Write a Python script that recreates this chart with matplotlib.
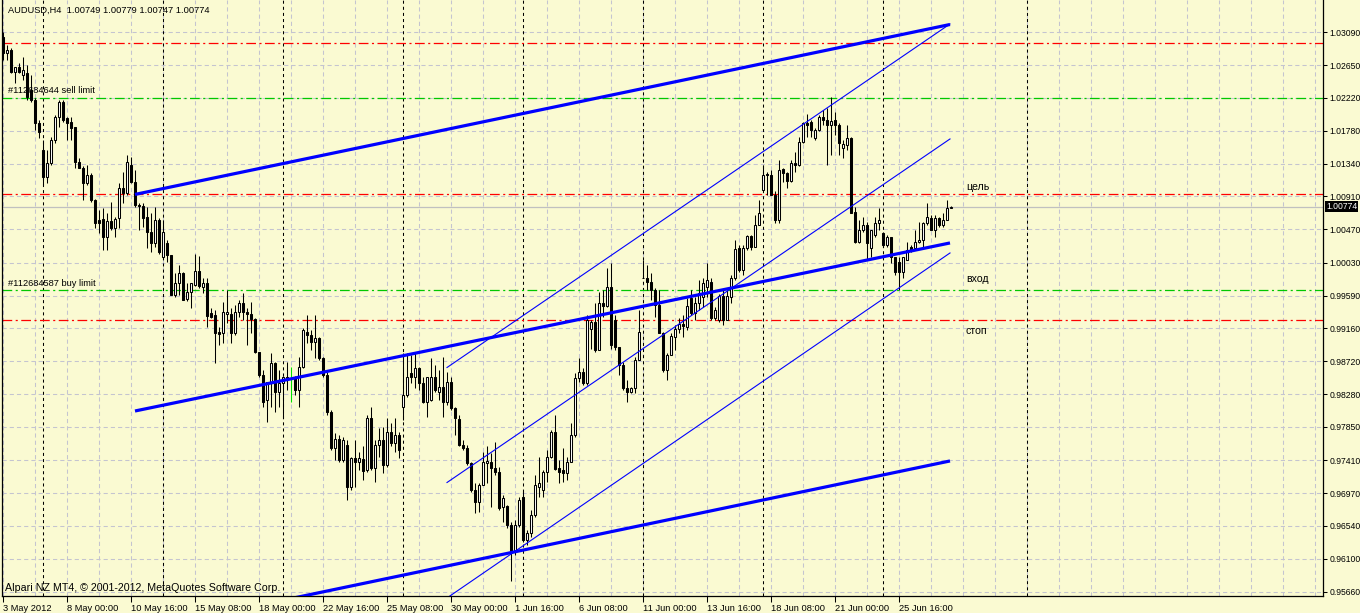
import numpy as np
import matplotlib.pyplot as plt
import matplotlib.transforms as mtransforms

plt.rcParams['font.family'] = ['Liberation Sans', 'DejaVu Sans']
plt.rcParams['lines.scale_dashes'] = False

# AUDUSD H4 bars, prices in pips (price * 10000)
opens = [10302, 10281, 10285, 10256, 10262, 10252, 10255, 10232, 10219, 10188,
         10152, 10117, 10135, 10166, 10196, 10216, 10195, 10190, 10183, 10137,
         10129, 10108, 10119, 10086, 10060, 10061, 10037, 10058, 10049, 10062,
         10102, 10095, 10133, 10110, 10079, 10078, 10063, 10044, 10029, 10060,
         10011, 10029, 10013, 9960, 9976, 9989, 9955, 9964, 9973, 9992,
         9970, 9976, 9936, 9934, 9911, 9910, 9935, 9935, 9910, 9937,
         9949, 9937, 9935, 9928, 9884, 9854, 9821, 9843, 9870, 9831,
         9843, 9851, 9850, 9851, 9834, 9865, 9911, 9907, 9898, 9903,
         9876, 9854, 9805, 9757, 9769, 9741, 9761, 9705, 9744, 9738,
         9743, 9728, 9797, 9730, 9761, 9768, 9734, 9778, 9764, 9774,
         9811, 9827, 9857, 9851, 9863, 9843, 9818, 9821, 9851, 9831,
         9838, 9818, 9845, 9810, 9796, 9761, 9757, 9737, 9701, 9685,
         9708, 9737, 9738, 9730, 9725, 9679, 9680, 9655, 9619, 9655,
         9692, 9635, 9644, 9668, 9705, 9701, 9725, 9745, 9778, 9730,
         9728, 9724, 9738, 9774, 9850, 9858, 9843, 9915, 9924, 9887,
         9949, 9945, 9970, 9927, 9891, 9867, 9837, 9831, 9837, 9874,
         9983, 9982, 9977, 9967, 9947, 9910, 9860, 9880, 9904, 9915,
         9922, 9918, 9956, 9936, 9949, 9957, 9970, 9977, 9930, 9927,
         9959, 9927, 9957, 9982, 10022, 9993, 10022, 10038, 10024, 10053,
         10099, 10121, 10119, 10093, 10060, 10127, 10122, 10111, 10135, 10133,
         10163, 10188, 10190, 10168, 10179, 10196, 10192, 10186, 10192, 10186,
         10155, 10159, 10168, 10070, 10030, 10046, 10053, 10022, 10040, 10056,
         10042, 10026, 10037, 10010, 10004, 9991, 10007, 10024, 10022, 10030,
         10033, 10056, 10062, 10046, 10062, 10053, 10060, 10075]
highs = [10309, 10292, 10288, 10263, 10268, 10276, 10265, 10252, 10222, 10192,
         10166, 10152, 10170, 10199, 10219, 10219, 10196, 10196, 10183, 10142,
         10131, 10133, 10122, 10087, 10073, 10075, 10069, 10083, 10063, 10108,
         10123, 10146, 10143, 10126, 10082, 10082, 10077, 10069, 10077, 10062,
         10060, 10033, 10013, 9989, 10000, 9990, 9976, 9976, 10014, 10012,
         9983, 9983, 9943, 9940, 9917, 9951, 9967, 9943, 9947, 9953,
         9963, 9943, 9951, 9930, 9884, 9861, 9845, 9883, 9871, 9861,
         9852, 9871, 9865, 9853, 9878, 9916, 9934, 9914, 9934, 9904,
         9878, 9858, 9807, 9777, 9774, 9772, 9768, 9745, 9768, 9752,
         9759, 9801, 9811, 9768, 9783, 9785, 9797, 9790, 9797, 9778,
         9883, 9883, 9880, 9883, 9865, 9851, 9851, 9876, 9867, 9861,
         9878, 9858, 9851, 9811, 9801, 9768, 9761, 9738, 9710, 9710,
         9752, 9759, 9750, 9765, 9732, 9695, 9681, 9659, 9661, 9692,
         9701, 9648, 9675, 9721, 9745, 9728, 9754, 9781, 9801, 9741,
         9757, 9745, 9790, 9856, 9876, 9863, 9934, 9927, 9949, 9964,
         9967, 9996, 10002, 9934, 9891, 9871, 9847, 9838, 9878, 9940,
         10006, 10000, 9989, 9969, 9967, 9911, 9883, 9910, 9920, 9930,
         9934, 9956, 9967, 9957, 9980, 9982, 10002, 9983, 9944, 9961,
         9967, 9967, 9987, 10033, 10026, 10026, 10040, 10040, 10066, 10086,
         10133, 10123, 10126, 10098, 10139, 10129, 10123, 10139, 10150, 10170,
         10190, 10200, 10192, 10181, 10199, 10206, 10208, 10223, 10203, 10188,
         10166, 10186, 10170, 10077, 10060, 10063, 10057, 10046, 10063, 10075,
         10044, 10040, 10037, 10010, 10010, 10010, 10030, 10026, 10046, 10057,
         10057, 10082, 10066, 10066, 10063, 10069, 10086, 10078]
lows = [10272, 10272, 10255, 10241, 10255, 10245, 10219, 10216, 10179, 10168,
        10106, 10108, 10133, 10162, 10183, 10190, 10166, 10166, 10129, 10128,
        10086, 10106, 10083, 10049, 10042, 10020, 10020, 10046, 10037, 10049,
        10082, 10093, 10108, 10077, 10046, 10050, 10022, 10017, 10024, 10015,
        10010, 10004, 9960, 9957, 9960, 9953, 9952, 9943, 9972, 9969,
        9963, 9917, 9930, 9870, 9894, 9896, 9923, 9896, 9907, 9931,
        9927, 9894, 9910, 9883, 9851, 9811, 9792, 9811, 9805, 9811,
        9797, 9834, 9818, 9827, 9811, 9863, 9896, 9887, 9876, 9874,
        9851, 9801, 9754, 9741, 9738, 9738, 9688, 9701, 9705, 9728,
        9715, 9725, 9728, 9712, 9745, 9724, 9732, 9759, 9752, 9744,
        9794, 9825, 9843, 9837, 9834, 9817, 9798, 9819, 9831, 9821,
        9798, 9814, 9807, 9774, 9759, 9754, 9734, 9699, 9671, 9672,
        9708, 9710, 9679, 9721, 9675, 9659, 9651, 9580, 9615, 9652,
        9632, 9628, 9639, 9665, 9692, 9692, 9712, 9744, 9728, 9710,
        9712, 9715, 9738, 9772, 9845, 9841, 9841, 9889, 9884, 9887,
        9931, 9944, 9889, 9887, 9854, 9834, 9818, 9830, 9830, 9874,
        9982, 9967, 9953, 9931, 9910, 9858, 9847, 9880, 9887, 9910,
        9904, 9914, 9934, 9927, 9940, 9944, 9957, 9927, 9927, 9924,
        9920, 9927, 9949, 9980, 9991, 9987, 10020, 10020, 10024, 10053,
        10099, 10093, 10093, 10056, 10056, 10110, 10102, 10110, 10123, 10131,
        10162, 10170, 10170, 10166, 10178, 10186, 10133, 10146, 10172, 10146,
        10142, 10152, 10069, 10029, 10029, 10044, 10006, 10011, 10037, 10046,
        10024, 10024, 10002, 9987, 9967, 9983, 10007, 10017, 10020, 10029,
        10024, 10053, 10046, 10037, 10050, 10050, 10060, 10075]
closes = [10281, 10285, 10256, 10263, 10256, 10259, 10223, 10219, 10188, 10176,
          10117, 10135, 10166, 10196, 10216, 10192, 10188, 10181, 10137, 10129,
          10108, 10119, 10086, 10056, 10056, 10037, 10058, 10049, 10061, 10102,
          10095, 10137, 10110, 10079, 10078, 10062, 10044, 10029, 10060, 10017,
          10044, 10013, 9960, 9976, 9989, 9953, 9964, 9976, 9992, 9972,
          9976, 9932, 9931, 9910, 9908, 9937, 9937, 9910, 9937, 9949,
          9937, 9935, 9928, 9884, 9854, 9818, 9845, 9870, 9831, 9843,
          9851, 9848, 9850, 9834, 9865, 9914, 9907, 9898, 9903, 9876,
          9854, 9805, 9757, 9769, 9741, 9768, 9705, 9744, 9738, 9744,
          9727, 9797, 9730, 9761, 9768, 9734, 9778, 9764, 9774, 9754,
          9827, 9851, 9851, 9863, 9843, 9818, 9851, 9851, 9834, 9838,
          9818, 9845, 9810, 9797, 9761, 9757, 9737, 9701, 9685, 9708,
          9738, 9740, 9730, 9725, 9677, 9691, 9655, 9619, 9655, 9688,
          9635, 9644, 9668, 9708, 9710, 9725, 9745, 9778, 9729, 9725,
          9724, 9738, 9774, 9850, 9858, 9843, 9927, 9924, 9887, 9949,
          9945, 9970, 9894, 9891, 9867, 9837, 9831, 9837, 9874, 9911,
          9982, 9977, 9967, 9947, 9910, 9860, 9880, 9906, 9915, 9922,
          9919, 9945, 9936, 9949, 9963, 9976, 9980, 9930, 9940, 9959,
          9927, 9959, 9982, 10021, 9993, 10022, 10038, 10024, 10053, 10069,
          10119, 10119, 10093, 10060, 10126, 10122, 10111, 10135, 10133, 10163,
          10188, 10186, 10179, 10179, 10196, 10192, 10186, 10191, 10186, 10162,
          10161, 10168, 10069, 10030, 10046, 10053, 10029, 10046, 10056, 10060,
          10026, 10037, 10010, 9991, 9991, 10010, 10020, 10020, 10030, 10033,
          10056, 10063, 10046, 10062, 10053, 10060, 10075, 10077]

date_ticks = [0, 16, 32, 48, 64, 80, 96, 112, 128, 144, 160, 176, 192, 208, 224]
date_labels = ['3 May 2012', '8 May 00:00', '10 May 16:00', '15 May 08:00', '18 May 00:00',
               '22 May 16:00', '25 May 08:00', '30 May 00:00', '1 Jun 16:00', '6 Jun 08:00',
               '11 Jun 00:00', '13 Jun 16:00', '18 Jun 08:00', '21 Jun 00:00', '25 Jun 16:00']
price_ticks = [1.0309, 1.0265, 1.0222, 1.0178, 1.0134, 1.0091, 1.0047, 1.0003, 0.9959,
               0.9916, 0.9872, 0.9828, 0.9785, 0.9741, 0.9697, 0.9654, 0.9610, 0.9566]
week_starts = [10, 40, 70, 100, 130, 160, 190, 220, 256]

# trend lines: (bar, price) anchor pairs
thick_lines = [((33, 1.00935), (236.75, 1.03190)),
               ((33, 0.98061), (236.75, 1.00291)),
               ((33, 0.95140), (236.75, 0.97398))]
thin_lines = [((111, 0.98638), (236.75, 1.03197)),
              ((111, 0.97112), (236.75, 1.01671)),
              ((111, 0.95580), (236.75, 1.00158))]

# order levels
red_levels = [1.0294, 1.0094, 0.9927]
green_levels = [1.0222, 0.9967]
bid = 1.00774
notes = [('цель', 1.01034), ('вход', 0.99813), ('стоп', 0.99123)]

bg = '#FAFAD2'
fs = 6.7
fig = plt.figure(figsize=(13.6, 6.13), dpi=100)
fig.patch.set_facecolor(bg)
ax = fig.add_axes([2 / 1360, 17 / 613, 1321 / 1360, 596 / 613])
ax.set_facecolor(bg)
ax.set_xlim(-0.25, 330)
ax.set_ylim(0.95606, 1.03515)

# grid
ax.vlines(np.arange(0, 330, 8), 0, 1, transform=ax.get_xaxis_transform(),
          colors='#C4C4D0', lw=0.75, linestyles=[(0, (3, 2.2))], zorder=1)
for p in price_ticks:
    ax.axhline(p, color='#C4C4D0', lw=0.75, ls=(0, (3, 2.2)), zorder=1)
ax.vlines(week_starts, 0, 1, transform=ax.get_xaxis_transform(),
          colors='black', lw=0.75, linestyles=[(0, (2.2, 2.2))], zorder=1)

# levels
ax.axhline(bid, color='#C0C0C0', lw=0.9, zorder=1.5)
for p in red_levels:
    ax.axhline(p, color='#FF0000', lw=0.9, ls=(0, (7, 2.5, 1.5, 2.5)), zorder=1.5)
for p in green_levels:
    ax.axhline(p, color='#00C800', lw=0.9, ls=(0, (7, 2.5, 1.5, 2.5)), zorder=1.5)

# candles
x = np.arange(len(closes))
o = np.array(opens) / 1e4
h = np.array(highs) / 1e4
l = np.array(lows) / 1e4
c = np.array(closes) / 1e4
up = c > o
dn = c < o
dj = c == o
ax.vlines(x[~dj], l[~dj], h[~dj], color='black', lw=0.75, zorder=3)
ax.bar(x[up], (c - o)[up], bottom=o[up], width=0.5, color='white',
       edgecolor='black', lw=0.75, zorder=4)
ax.bar(x[dn], (o - c)[dn], bottom=c[dn], width=0.5, color='black',
       edgecolor='black', lw=0.75, zorder=4)
ax.vlines(x[dj], l[dj], h[dj], color='#00E000', lw=0.75, zorder=3)
ax.hlines(o[dj], x[dj] - 0.3, x[dj] + 0.3, color='#00E000', lw=0.75, zorder=3)

# trend lines
for (x0, y0), (x1, y1) in thick_lines:
    ax.plot([x0, x1], [y0, y1], color='#0000FF', lw=2.3, zorder=5, solid_capstyle='butt')
for (x0, y0), (x1, y1) in thin_lines:
    ax.plot([x0, x1], [y0, y1], color='#0000FF', lw=0.8, zorder=5)

# texts
ax.text(1.25, 1.02308, '#112684644 sell limit', fontsize=fs, va='center', zorder=6)
ax.text(1.25, 0.99747, '#112684587 buy limit', fontsize=fs, va='center', zorder=6)
for t, p in notes:
    ax.text(240.75, p, t, fontsize=7.6, va='center', zorder=6)
fig.text(8 / 1360, 1 - 10 / 613, 'AUDUSD,H4  1.00749 1.00779 1.00747 1.00774',
         fontsize=fs, va='center')
fig.text(5 / 1360, 1 - 588 / 613, 'Alpari NZ MT4, © 2001-2012, MetaQuotes Software Corp.',
         fontsize=7.7, va='center')

# axes
ax.yaxis.tick_right()
ax.set_yticks(price_ticks)
ax.set_yticklabels([f'{p:.5f}' for p in price_ticks])
ax.set_xticks(date_ticks)
ax.set_xticklabels(date_labels, ha='left')
ax.tick_params(axis='y', length=3, width=0.75, pad=1.5, labelsize=6.2, direction='out')
ax.tick_params(axis='x', length=4, width=0.75, pad=1.5, labelsize=fs, direction='out')
for s in ['left', 'right', 'bottom']:
    ax.spines[s].set_linewidth(0.9)
    ax.spines[s].set_color('black')
ax.spines['top'].set_visible(False)

trans = mtransforms.blended_transform_factory(ax.transAxes, ax.transData)
ax.text(1.0022, bid, '1.00774', transform=trans, fontsize=6.2, color='white', va='center',
        ha='left', bbox=dict(boxstyle='square,pad=0.15', fc='black', ec='none'), zorder=7,
        clip_on=False)

fig.savefig('out.png', dpi=100, facecolor=bg)
